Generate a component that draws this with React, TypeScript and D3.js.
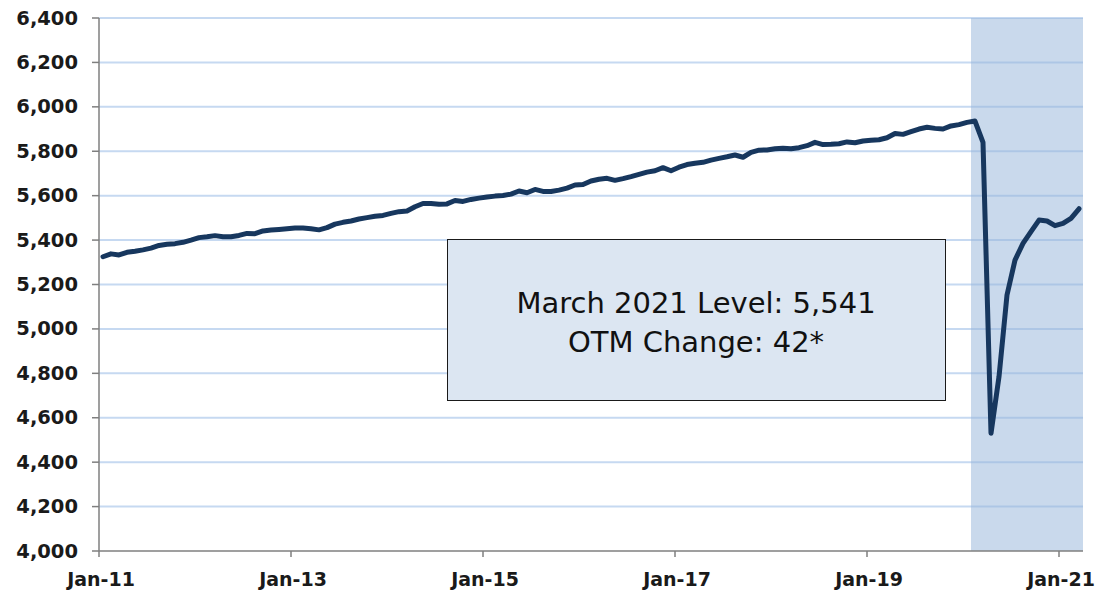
import React from "react";
import * as d3 from "d3";

const values2011 = [5325, 5338, 5333, 5345, 5350, 5356, 5364, 5376, 5381, 5384, 5390, 5400];
const values2012 = [5411, 5415, 5420, 5415, 5415, 5421, 5430, 5429, 5441, 5445, 5448, 5451];
const values2013 = [5454, 5454, 5451, 5446, 5456, 5472, 5480, 5486, 5495, 5501, 5507, 5511];
const values2014 = [5520, 5528, 5531, 5550, 5565, 5565, 5561, 5563, 5578, 5574, 5583, 5589];
const values2015 = [5594, 5598, 5601, 5607, 5621, 5613, 5628, 5619, 5619, 5625, 5634, 5648];
const values2016 = [5650, 5666, 5674, 5678, 5669, 5677, 5686, 5696, 5706, 5712, 5726, 5712];
const values2017 = [5728, 5740, 5746, 5750, 5760, 5768, 5775, 5783, 5773, 5795, 5805, 5806];
const values2018 = [5811, 5814, 5811, 5816, 5825, 5840, 5830, 5831, 5834, 5842, 5838, 5846];
const values2019 = [5850, 5852, 5861, 5880, 5876, 5888, 5900, 5908, 5903, 5900, 5914, 5920];
const values2020 = [5930, 5936, 5840, 4530, 4785, 5153, 5310, 5385, 5438, 5490, 5486, 5465];
const values2021 = [5475, 5498, 5541];

const series = [
  ...values2011, ...values2012, ...values2013, ...values2014, ...values2015,
  ...values2016, ...values2017, ...values2018, ...values2019, ...values2020, ...values2021,
];

const xTickLabels = ["Jan-11", "Jan-13", "Jan-15", "Jan-17", "Jan-19", "Jan-21"];
const yTicks = [4000, 4200, 4400, 4600, 4800, 5000, 5200, 5400, 5600, 5800, 6000, 6200, 6400];
const shadeStartMonth = 109; // Feb-20
const annotationLines = ["March 2021 Level: 5,541", "OTM Change: 42*"];

const W = 1101;
const H = 592;
const left = 99;
const right = 1083;
const top = 18;
const bottom = 551;

export default function App() {
  const nMonths = series.length; // 123
  const x = d3.scaleLinear().domain([0, nMonths]).range([left, right]);
  const y = d3.scaleLinear().domain([4000, 6400]).range([bottom, top]);
  const fmt = d3.format(",");

  const line = d3
    .line<number>()
    .x((_, i) => x(i + 0.5))
    .y((d) => y(d))
    .curve(d3.curveLinear);

  const labelFont = "'DejaVu Sans', Verdana, sans-serif";

  return (
    <svg
      width={W}
      height={H}
      style={{ position: "absolute", left: 0, top: 0, background: "#fff" }}
    >
      {yTicks.slice(1).map((t) => (
        <line
          key={"g" + t}
          x1={left}
          x2={right}
          y1={y(t)}
          y2={y(t)}
          stroke="#c6d9f1"
          strokeWidth={2}
        />
      ))}
      <rect
        x={x(shadeStartMonth)}
        y={y(6400)}
        width={x(nMonths) - x(shadeStartMonth)}
        height={y(4000) - y(6400)}
        fill="#93b3d9"
        fillOpacity={0.5}
      />
      <line x1={left} x2={left} y1={top} y2={bottom} stroke="#7f7f7f" strokeWidth={1.5} />
      <line x1={left} x2={right} y1={bottom} y2={bottom} stroke="#7f7f7f" strokeWidth={1.5} />
      {yTicks.map((t) => (
        <g key={"y" + t}>
          <line x1={left - 7} x2={left} y1={y(t)} y2={y(t)} stroke="#7f7f7f" strokeWidth={1.5} />
          <text
            x={78}
            y={y(t)}
            textAnchor="end"
            dominantBaseline="central"
            fontFamily={labelFont}
            fontWeight="bold"
            fontSize={19.5}
            fill="#1a1a1a"
          >
            {fmt(t)}
          </text>
        </g>
      ))}
      {xTickLabels.map((lab, i) => {
        const m = i * 24;
        return (
          <g key={lab}>
            <line x1={x(m)} x2={x(m)} y1={bottom} y2={bottom + 6} stroke="#7f7f7f" strokeWidth={1.5} />
            <text
              x={x(m) + 2}
              y={586}
              textAnchor="middle"
              fontFamily={labelFont}
              fontWeight="bold"
              fontSize={19}
              fill="#1a1a1a"
            >
              {lab}
            </text>
          </g>
        );
      })}
      <path
        d={line(series) || ""}
        fill="none"
        stroke="#17375e"
        strokeWidth={5}
        strokeLinejoin="round"
        strokeLinecap="round"
      />
      <rect x={447.5} y={239.5} width={498} height={161} fill="#dce6f2" stroke="#1a1a1a" strokeWidth={1} />
      {annotationLines.map((s, i) => (
        <text
          key={s}
          x={696}
          y={313 + i * 38.5}
          textAnchor="middle"
          fontFamily={labelFont}
          fontSize={29}
          fill="#111"
        >
          {s}
        </text>
      ))}
    </svg>
  );
}
